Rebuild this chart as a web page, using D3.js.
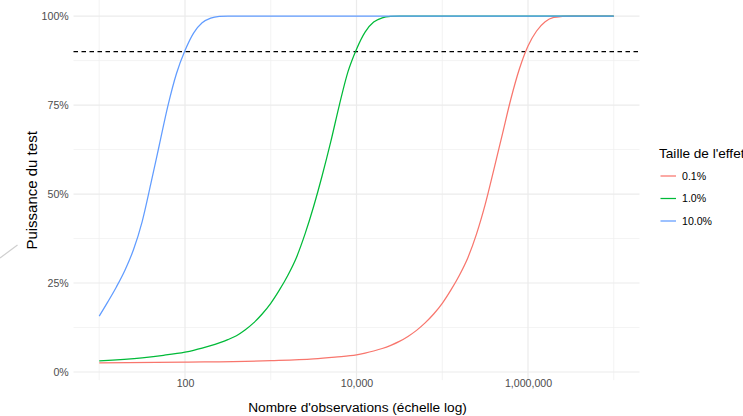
<!DOCTYPE html>
<html>
<head>
<meta charset="utf-8">
<script src="https://cdn.jsdelivr.net/npm/d3@7"></script>
<style>
  html, body { margin: 0; padding: 0; background: #fff; }
  svg { display: block; font-family: "Liberation Sans", Arial, sans-serif; }
</style>
</head>
<body>
<svg id="chart" width="743" height="416"></svg>
<script>
// ---- data ----
const seriesNames = ["0.1%", "1.0%", "10.0%"];
const seriesColors = ["#F8766D", "#00BA38", "#619CFF"];

const nRed   = [10, 100, 1000, 3162, 5623, 10000, 12589, 15849, 19953, 25119, 31623, 39811, 50119, 63096, 79433, 100000,
                125893, 158489, 199526, 251189, 316228, 398107, 501187, 630957, 794328, 1000000,
                1258925, 1584893, 1995262, 2511886, 3162278, 10000000];
const pRed   = [0.026, 0.028, 0.032, 0.037, 0.042, 0.048, 0.053, 0.059, 0.066, 0.075, 0.086, 0.100, 0.117, 0.138, 0.163, 0.193,
                0.230, 0.272, 0.322, 0.388, 0.470, 0.567, 0.667, 0.767, 0.852, 0.916,
                0.958, 0.984, 0.996, 0.999, 1.0, 1.0];

const nGreen = [10, 31.62, 56.23, 100, 125.9, 158.5, 199.5, 251.2, 316.2, 398.1, 501.2, 631.0, 794.3, 1000,
                1259, 1585, 1995, 2512, 3162, 3981, 5012, 6310, 7943, 10000,
                12589, 15849, 19953, 25119, 31623, 100000, 1000000, 10000000];
const pGreen = [0.031, 0.040, 0.047, 0.056, 0.061, 0.067, 0.074, 0.082, 0.091, 0.102, 0.118, 0.138, 0.163, 0.193,
                0.230, 0.272, 0.322, 0.388, 0.465, 0.552, 0.647, 0.750, 0.843, 0.907,
                0.955, 0.983, 0.995, 0.999, 1.0, 1.0, 1.0, 1.0];

const nBlue  = [10, 12.59, 15.85, 19.95, 25.12, 31.62, 39.81, 50.12, 63.10, 79.43, 100, 125.9, 158.5, 199.5, 251.2, 316.2,
                1000, 10000, 100000, 1000000, 10000000];
const pBlue  = [0.157, 0.197, 0.239, 0.286, 0.344, 0.422, 0.527, 0.637, 0.747, 0.838, 0.903, 0.952, 0.981, 0.994, 0.999, 1.0,
                1.0, 1.0, 1.0, 1.0, 1.0];

const xMajorTicks = [100, 10000, 1000000];
const xMinorTicks = [10, 1000, 100000, 10000000];
const yMajorTicks = [0, 0.25, 0.5, 0.75, 1];
const yMinorTicks = [0.125, 0.375, 0.625, 0.875];
const threshold = 0.9;

const xTitle = "Nombre d'observations (échelle log)";
const yTitle = "Puissance du test";
const legendTitle = "Taille de l'effet";

// ---- layout ----
const svg = d3.select("#chart");
const panel = { left: 73.5, right: 639.5, top: -1.3, bottom: 380.1 };

const x = d3.scaleLog()
  .domain([Math.pow(10, 0.7), Math.pow(10, 7.3)])
  .range([panel.left, panel.right]);
const y = d3.scaleLinear()
  .domain([-0.0227, 1.0487])
  .range([panel.bottom, panel.top]);

const grid = svg.append("g");
// minor grid
grid.selectAll("line.ymin").data(yMinorTicks).join("line")
  .attr("x1", panel.left).attr("x2", panel.right)
  .attr("y1", d => y(d)).attr("y2", d => y(d))
  .attr("stroke", "#f0f0f0").attr("stroke-width", 0.8);
grid.selectAll("line.xmin").data(xMinorTicks).join("line")
  .attr("y1", panel.top).attr("y2", panel.bottom)
  .attr("x1", d => x(d)).attr("x2", d => x(d))
  .attr("stroke", "#f0f0f0").attr("stroke-width", 0.8);
// major grid
grid.selectAll("line.ymaj").data(yMajorTicks).join("line")
  .attr("x1", panel.left).attr("x2", panel.right)
  .attr("y1", d => y(d)).attr("y2", d => y(d))
  .attr("stroke", "#ebebeb").attr("stroke-width", 1.2);
grid.selectAll("line.xmaj").data(xMajorTicks).join("line")
  .attr("y1", panel.top).attr("y2", panel.bottom)
  .attr("x1", d => x(d)).attr("x2", d => x(d))
  .attr("stroke", "#ebebeb").attr("stroke-width", 1.2);

// axes (labels only, ggplot minimal style)
const fmtX = d3.format(",");
const xAxis = d3.axisBottom(x).tickValues(xMajorTicks).tickFormat(d => fmtX(d)).tickSize(0).tickPadding(0);
const gx = svg.append("g").attr("transform", `translate(0,${panel.bottom})`).call(xAxis);
gx.select(".domain").remove();
gx.selectAll("text").attr("fill", "#4d4d4d").attr("font-size", "10.6px")
  .attr("font-family", "Liberation Sans, Arial, sans-serif").attr("dy", "0").attr("y", 6.8);

const yAxis = d3.axisLeft(y).tickValues(yMajorTicks).tickFormat(d3.format(".0%")).tickSize(0).tickPadding(0);
const gy = svg.append("g").attr("transform", `translate(${panel.left},0)`).call(yAxis);
gy.select(".domain").remove();
gy.selectAll("text").attr("fill", "#4d4d4d").attr("font-size", "10.6px")
  .attr("font-family", "Liberation Sans, Arial, sans-serif").attr("x", -4.8).attr("dy", "0.36em");

// threshold line
svg.append("line")
  .attr("x1", panel.left).attr("x2", panel.right)
  .attr("y1", y(threshold)).attr("y2", y(threshold))
  .attr("stroke", "#000").attr("stroke-width", 1.1).attr("stroke-dasharray", "4.5,3.5");

// curves
const series = [
  { name: seriesNames[0], color: seriesColors[0], pts: nRed.map((n, i) => [n, pRed[i]]) },
  { name: seriesNames[1], color: seriesColors[1], pts: nGreen.map((n, i) => [n, pGreen[i]]) },
  { name: seriesNames[2], color: seriesColors[2], pts: nBlue.map((n, i) => [n, pBlue[i]]) }
];
const line = d3.line().x(d => x(d[0])).y(d => y(d[1])).curve(d3.curveMonotoneX);
svg.append("g").selectAll("path").data(series).join("path")
  .attr("d", d => line(d.pts))
  .attr("fill", "none").attr("stroke", d => d.color).attr("stroke-width", 1.25);

// axis titles
svg.append("text").attr("x", (panel.left + panel.right) / 2 + 1).attr("y", 412.3)
  .attr("text-anchor", "middle").attr("font-size", "13.7px").attr("fill", "#000").text(xTitle);
svg.append("text").attr("transform", `translate(36.5,${(panel.top + panel.bottom) / 2 + 1}) rotate(-90)`)
  .attr("text-anchor", "middle").attr("font-size", "15px").attr("fill", "#000").text(yTitle);

// legend
const lg = svg.append("g");
lg.append("text").attr("x", 659).attr("y", 158).attr("font-size", "13.6px").attr("fill", "#000").text(legendTitle);
const items = lg.selectAll("g.item").data(series).join("g")
  .attr("transform", (d, i) => `translate(0,${176 + i * 22.5})`);
items.append("line").attr("x1", 660.5).attr("x2", 676).attr("y1", 0).attr("y2", 0)
  .attr("stroke", d => d.color).attr("stroke-width", 1.25);
items.append("text").attr("x", 682).attr("y", 0).attr("dy", "0.36em")
  .attr("font-size", "10.6px").attr("fill", "#000").text(d => d.name);

// stray grey stroke at left edge of the reference
svg.append("line").attr("x1", 0).attr("y1", 258).attr("x2", 17.5).attr("y2", 245)
  .attr("stroke", "#cfcfcf").attr("stroke-width", 1.2);
</script>
</body>
</html>
